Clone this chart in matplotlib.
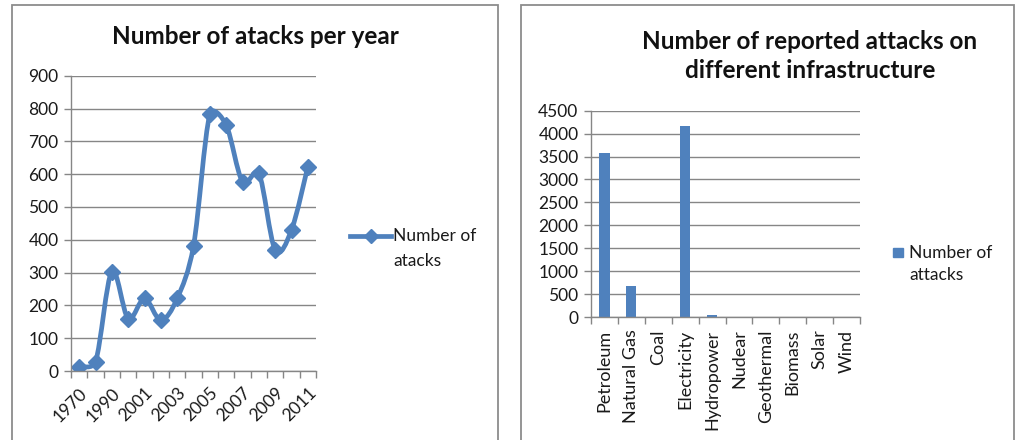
import matplotlib
matplotlib.use("Agg")
import matplotlib.pyplot as plt
from matplotlib.path import Path
from matplotlib.patches import PathPatch, Rectangle
from matplotlib.lines import Line2D
import numpy as np

# ---- data ----
years = ["1970", "1980", "1990", "2000", "2001", "2002", "2003", "2004",
         "2005", "2006", "2007", "2008", "2009", "2010", "2011"]
attacks_per_year = [13, 28, 303, 160, 221, 155, 221, 381,
                    782, 750, 577, 603, 369, 430, 623]
year_ticks_shown = ["1970", "1990", "2001", "2003", "2005", "2007", "2009", "2011"]

infrastructure = ["Petroleum", "Natural Gas", "Coal", "Electricity", "Hydropower",
                  "Nudear", "Geothermal", "Biomass", "Solar", "Wind"]
attacks_by_infra = [3570, 685, 0, 4165, 40, 0, 0, 0, 0, 0]

title_left = "Number of atacks per year"
title_right = "Number of reported attacks on\ndifferent infrastructure"
legend_left = "Number of\natacks"
legend_right = "Number of\nattacks"

BLUE = "#4F81BD"
GRID = "#868686"
FRAME = "#8C8C8C"
TXT = "#1a1a1a"
FONT = "Lato"
plt.rcParams['font.family'] = [FONT, 'DejaVu Sans']

W, H = 1018, 440
fig = plt.figure(figsize=(W / 100, H / 100), dpi=100)

def fx(px):
    return px / W

def fy(py):
    return 1 - py / H

# chart frames
for (x0, x1) in [(12, 498), (521, 1014)]:
    fig.add_artist(Rectangle((fx(x0), fy(445)), fx(x1) - fx(x0), fy(5) - fy(445),
                             transform=fig.transFigure, fill=False,
                             edgecolor=FRAME, linewidth=1.3))

TICK_FS = 12.5

def style_axes(ax):
    for s in ["top", "right"]:
        ax.spines[s].set_visible(False)
    for s in ["left", "bottom"]:
        ax.spines[s].set_color(GRID)
        ax.spines[s].set_linewidth(1.0)
    ax.tick_params(axis="both", colors=GRID, labelcolor=TXT,
                   labelsize=TICK_FS, length=5, width=1.0, direction="out")
    ax.tick_params(axis="y", pad=4)
    ax.yaxis.grid(True, color=GRID, linewidth=1.0)
    ax.set_axisbelow(True)

# ---- left: line chart ----
ax1 = fig.add_axes([fx(71), fy(371), fx(316) - fx(71), fy(75.7) - fy(371)])
style_axes(ax1)
n = len(years)
xs = np.arange(n)
ys = np.array(attacks_per_year, dtype=float)
ax1.set_xlim(-0.5, n - 0.5)
ax1.set_ylim(0, 900)

# smooth Bezier path through the points (Excel-style smoothing, in pixel space)
pix = ax1.transData.transform(np.column_stack([xs, ys]))
inv = ax1.transData.inverted()
verts = [tuple(pix[0])]
codes = [Path.MOVETO]
for i in range(n - 1):
    p0 = pix[max(i - 1, 0)]
    p1 = pix[i]
    p2 = pix[i + 1]
    p3 = pix[min(i + 2, n - 1)]
    seg = np.hypot(*(p2 - p1))
    t1 = (p2 - p0) / 6
    t2 = (p3 - p1) / 6
    lim = 0.5 * seg
    for t in (t1, t2):
        L = np.hypot(*t)
        if L > lim and L > 0:
            t *= lim / L
    c1 = p1 + t1
    c2 = p2 - t2
    verts += [tuple(c1), tuple(c2), tuple(p2)]
    codes += [Path.CURVE4] * 3
verts_data = inv.transform(np.array(verts))
ax1.add_patch(PathPatch(Path(verts_data, codes), fill=False, edgecolor=BLUE,
                        linewidth=3.4, capstyle="round", joinstyle="round"))
ax1.plot(xs, ys, linestyle="none", marker="D", markersize=8, color=BLUE)
ax1.set_yticks(range(0, 901, 100))
ax1.set_xticks(np.arange(-0.5, n, 1.0), minor=False)
ax1.set_xticklabels([])
ax1.set_xticks([years.index(y) for y in year_ticks_shown], minor=True)
ax1.set_xticklabels(year_ticks_shown, minor=True, rotation=45,
                    ha="right", va="top", rotation_mode="anchor")
ax1.tick_params(axis="x", which="minor", length=0, pad=10, labelsize=TICK_FS,
                labelcolor=TXT)
fig.text(fx(255), fy(37), title_left, ha="center", va="center",
         fontsize=17.5, fontweight="bold", color="#111111")
# legend (left)
fig.add_artist(Line2D([fx(350), fx(391)], [fy(236), fy(236)],
                      transform=fig.transFigure, color=BLUE, linewidth=3.4))
fig.add_artist(Line2D([fx(370.5)], [fy(236)], transform=fig.transFigure,
                      color=BLUE, marker="D", markersize=7.5, linestyle="none"))
for k, line in enumerate(legend_left.split("\n")):
    fig.text(fx(393), fy(236 + 25 * k), line, ha="left", va="center",
             fontsize=12.5, color=TXT)

# ---- right: bar chart ----
ax2 = fig.add_axes([fx(591), fy(317), fx(860) - fx(591), fy(110.7) - fy(317)])
style_axes(ax2)
m = len(infrastructure)
bx = np.arange(m)
ax2.bar(bx, attacks_by_infra, width=0.38, color=BLUE)
ax2.set_xlim(-0.5, m - 0.5)
ax2.set_ylim(0, 4500)
ax2.set_yticks(range(0, 4501, 500))
ax2.set_xticks(np.arange(-0.5, m, 1.0))
ax2.set_xticklabels([])
ax2.set_xticks(bx, minor=True)
ax2.set_xticklabels(infrastructure, minor=True, rotation=90, ha="center", va="top")
ax2.tick_params(axis="x", which="minor", length=0, pad=9, labelsize=13,
                labelcolor=TXT)
fig.text(fx(810), fy(56), title_right, ha="center", va="center",
         fontsize=17.5, fontweight="bold", color="#111111", linespacing=1.3)
# legend (right)
fig.add_artist(Rectangle((fx(893), fy(257)), fx(10), fy(0) - fy(9),
                         transform=fig.transFigure, color=BLUE))
for k, line in enumerate(legend_right.split("\n")):
    fig.text(fx(909), fy(253 + 22 * k), line, ha="left", va="center",
             fontsize=12.5, color=TXT)

fig.savefig("out.png", dpi=100)
